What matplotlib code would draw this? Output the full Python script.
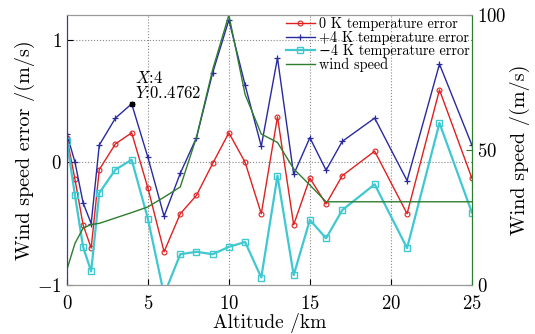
import numpy as np
import matplotlib
matplotlib.use("Agg")
import matplotlib.pyplot as plt

plt.rcParams['font.family'] = ['cmr10', 'DejaVu Serif']
plt.rcParams['mathtext.fontset'] = 'cm'
plt.rcParams['axes.formatter.use_mathtext'] = True

# altitude points (km)
alt = [0, 0.5, 1, 1.5, 2, 3, 4, 5, 6, 7, 8, 9, 10, 11, 12, 13, 14, 15, 16, 17, 19, 21, 23, 25]

err_0k = [0.20, -0.14, -0.51, -0.70, -0.06, 0.15, 0.24, -0.21, -0.73, -0.42, -0.27, -0.01,
          0.24, 0.0, -0.42, 0.37, -0.51, -0.13, -0.34, -0.11, 0.09, -0.42, 0.59, -0.13]
err_p4k = [0.23, 0.0, -0.33, -0.50, 0.14, 0.36, 0.4762, 0.04, -0.44, -0.09, 0.20, 0.73,
           1.16, 0.63, 0.13, 0.85, -0.10, 0.20, -0.065, 0.17, 0.36, -0.15, 0.80, 0.14]
err_m4k = [0.17, -0.27, -0.69, -0.89, -0.25, -0.06, 0.02, -0.46, -1.08, -0.75, -0.73, -0.75,
           -0.69, -0.65, -0.94, -0.11, -0.92, -0.47, -0.62, -0.39, -0.18, -0.70, 0.32, -0.41]
wind = [5.6, 15.4, 21.0, 22.4, 22.8, 24.8, 26.8, 28.9, 32.5, 36.3, 54.7, 79.8,
        100.0, 70.6, 55.9, 52.8, 43.0, 37.0, 30.8, 30.8, 30.8, 30.8, 30.8, 30.8]

fig = plt.figure(figsize=(5.35, 3.34), dpi=100)
ax = fig.add_axes([0.125, 0.147, 0.757, 0.808])
ax2 = ax.twinx()

l1, = ax.plot(alt, err_0k, color='#e02020', lw=1.0, marker='o', ms=3.5, mfc='none', mew=0.8,
              label='0 K temperature error')
l2, = ax.plot(alt, err_p4k, color='#2a2aa0', lw=1.0, marker='+', ms=5, mew=0.9,
              label='+4 K temperature error')
l3, = ax.plot(alt, err_m4k, color='#40c8d0', lw=1.6, marker='s', ms=4, mfc='none', mew=1.0,
              label='\u22124 K temperature error')
l4, = ax2.plot(alt, wind, color='#2e7d2e', lw=1.0, label='wind speed')

# data tip
ax.plot([4], [0.4762], marker='s', color='black', ms=3.5, zorder=5)
ax.text(4.2, 0.50, '$X$:4\n$Y$:0..4762', fontsize=12, va='bottom', ha='left', linespacing=0.85)

ax.set_xlim(0, 25)
ax.set_ylim(-1, 1.2)
ax2.set_ylim(0, 100)
ax.set_xticks([0, 5, 10, 15, 20, 25])
ax.set_yticks([-1, 0, 1])
ax2.set_yticks([0, 50, 100])

ax.grid(True, linestyle=':', color='#888888', lw=0.8)
ax.tick_params(direction='in', labelsize=13.5, length=4)
ax.tick_params(axis='x', pad=7)
ax2.tick_params(direction='in', labelsize=13.5, length=4, colors='#2e7d2e', labelcolor='black')

for a in (ax, ax2):
    a.spines['top'].set_color('#999999')
    a.spines['bottom'].set_color('#999999')
ax.spines['left'].set_color('#3a3a9a')
ax2.spines['left'].set_color('#3a3a9a')
ax2.spines['right'].set_color('#2e7d2e')
ax.spines['right'].set_color('#2e7d2e')

ax.set_xlabel('Altitude /km', fontsize=14, labelpad=0)
ax.set_ylabel('Wind speed error /(m/s)', fontsize=14.5, labelpad=2)
ax2.set_ylabel('Wind speed /(m/s)', fontsize=14.5, labelpad=3)

leg = ax2.legend(handles=[l1, l2, l3, l4], loc='upper right', frameon=False, fontsize=10.3,
                 handlelength=2.0, handletextpad=0.3, labelspacing=-0.03,
                 borderaxespad=0.1, borderpad=0.05)

fig.savefig('out.png', dpi=100)
